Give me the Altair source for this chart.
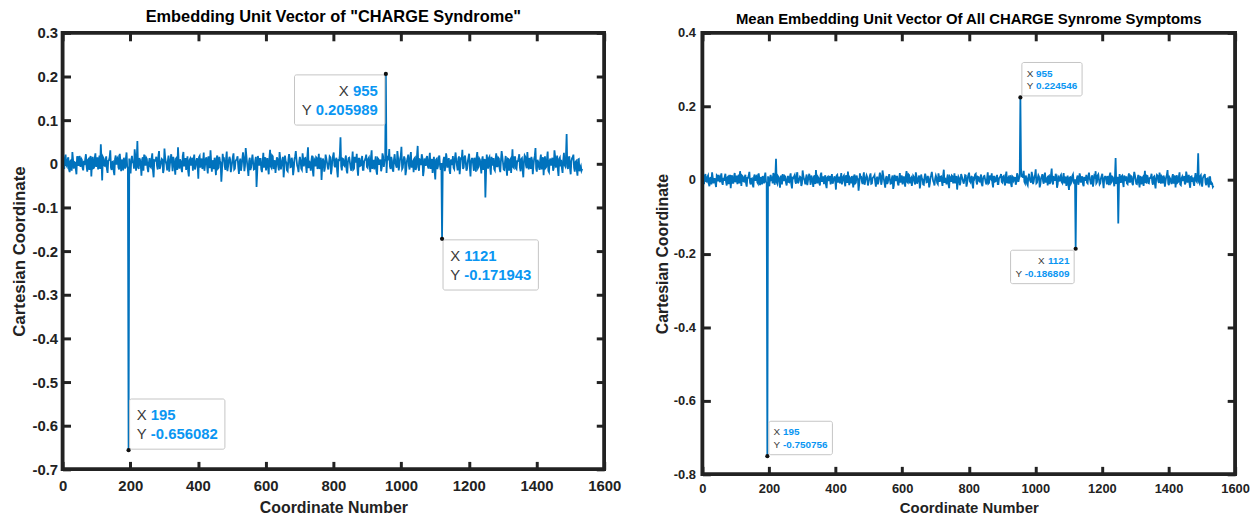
import altair as alt
import pandas as pd

# ---------------- data ----------------
# sampled coordinates: *_noise at 1, 5, 9, ...; *_noise_mid at 3, 7, 11, ...
COORD_START = 1
MID_START = 3
COORD_STEP = 4

left_noise = [
    0.004, -0.012, 0.021, -0.006, 0.015, -0.019, 0.008, 0.027, -0.011, 0.003, -0.024, 0.012, 0.018, -0.007, 0.009, -0.015,
    -0.003, 0.022, -0.018, 0.011, 0.006, -0.029, 0.016, -0.009, 0.024, 0.002, -0.013, 0.019, 0.045, -0.038, 0.013, -0.005,
    0.017, -0.021, 0.008, 0.031, -0.014, 0.005, -0.026, 0.019, 0.011, -0.008, 0.023, -0.017, 0.004, 0.014, -0.011, 0.026,
    -0.009, 0.012, -0.022, 0.018, 0.006, 0.033, -0.016, 0.052, -0.012, 0.009, -0.027, 0.015, 0.021, -0.004, 0.011, -0.019,
    0.013, -0.008, 0.024, -0.031, 0.007, 0.016, -0.013, 0.029, -0.006, 0.011, -0.021, 0.035, 0.004, -0.015, 0.019, -0.002,
    0.022, -0.017, 0.009, -0.025, 0.014, 0.038, -0.011, 0.006, -0.019, 0.027, 0.003, -0.014, 0.017, -0.029, 0.012, 0.008,
    -0.016, 0.021, -0.007, 0.013, -0.034, 0.018, 0.005, -0.012, 0.026, -0.003, 0.015, -0.022, 0.009, 0.031, -0.018, 0.004,
    0.014, -0.026, 0.019, -0.009, 0.007, -0.041, 0.023, 0.011, -0.014, 0.028, -0.006, 0.016, -0.019, 0.003, 0.024, -0.011,
    0.009, 0.017, -0.023, 0.012, -0.005, 0.026, -0.017, 0.036, 0.002, -0.028, 0.014, -0.008, 0.021, -0.013, 0.007, -0.053,
    0.018, -0.004, 0.011, -0.019, 0.025, 0.006, -0.015, 0.013, -0.024, 0.032, -0.009, 0.017, 0.004, -0.021, 0.015, -0.006,
    0.027, -0.013, 0.008, -0.031, 0.019, 0.003, -0.017, 0.022, -0.008, 0.014, -0.026, 0.011, 0.029, -0.004, -0.019, 0.016,
    -0.011, 0.024, -0.006, 0.013, -0.021, 0.038, 0.005, -0.016, 0.019, -0.029, 0.008, 0.015, -0.012, 0.023, -0.003, -0.037,
    0.012, -0.018, 0.021, 0.004, -0.013, 0.017, -0.024, 0.009, 0.026, -0.008, 0.014, -0.031, 0.006, 0.061, -0.015, 0.011,
    -0.005, 0.019, -0.022, 0.013, 0.002, -0.016, 0.028, -0.011, 0.007, 0.023, -0.027, 0.012, -0.004, 0.018, -0.014, 0.009,
    0.021, -0.009, 0.014, -0.019, 0.031, 0.005, -0.013, 0.017, -0.025, 0.011, 0.003, -0.017, 0.024, -0.007, 0.013, -0.021,
    0.016, 0.034, -0.012, 0.008, -0.018, 0.022, -0.004, 0.029, -0.015, 0.011, 0.039, -0.009, 0.017, -0.026, 0.006, 0.021,
    -0.013, 0.027, 0.003, -0.019, 0.014, -0.008, 0.041, -0.016, 0.009, 0.022, -0.028, 0.012, -0.005, 0.018, -0.011, 0.025,
    0.007, -0.021, 0.016, -0.036, 0.011, -0.006, 0.019, -0.014, 0.010, 0.008, -0.017, 0.024, -0.009, 0.013, -0.023, 0.004,
    0.018, -0.012, 0.026, -0.004, 0.011, -0.024, 0.015, 0.032, -0.008, 0.019, -0.016, 0.006, 0.023, -0.029, 0.012, -0.003,
    0.014, -0.018, 0.027, -0.007, 0.009, -0.022, 0.017, 0.004, -0.077, 0.021, -0.011, 0.016, -0.025, 0.008, 0.013, -0.015,
    0.024, -0.006, 0.012, -0.019, 0.029, 0.003, -0.014, 0.018, -0.027, 0.011, 0.007, -0.021, 0.033, -0.009, 0.015, -0.012,
    0.006, 0.022, -0.017, 0.013, -0.031, 0.019, -0.004, 0.027, -0.013, 0.009, 0.016, -0.024, 0.011, 0.036, -0.018, 0.005,
    -0.014, 0.021, 0.008, -0.026, 0.017, -0.007, 0.028, -0.019, 0.012, 0.004, -0.016, 0.031, -0.009, 0.019, -0.028, 0.014,
    0.009, -0.021, 0.025, -0.006, 0.068, -0.012, 0.017, -0.024, 0.013, 0.021, -0.018, 0.006, -0.027, 0.011, -0.009, -0.016,
]

left_noise_mid = [
    -0.008, 0.014, -0.003, 0.010, -0.013, 0.006, -0.016, 0.009, 0.004, -0.011, 0.017, -0.005, 0.002, 0.012, -0.009, 0.007,
    0.011, -0.006, 0.009, -0.014, 0.018, 0.003, -0.010, 0.013, -0.007, 0.015, 0.001, -0.012, 0.008, 0.016, -0.004, 0.010,
    -0.012, 0.007, 0.015, -0.009, 0.004, -0.017, 0.011, -0.002, 0.014, -0.013, 0.006, 0.010, -0.015, 0.003, 0.012, -0.007,
    0.005, -0.014, 0.009, 0.002, -0.011, 0.016, 0.007, -0.008, 0.013, -0.004, 0.010, -0.016, 0.006, 0.014, -0.010, 0.003,
    -0.006, 0.012, -0.015, 0.008, 0.011, -0.005, 0.017, -0.012, 0.004, 0.009, -0.013, 0.015, -0.002, 0.007, -0.018, 0.011,
    0.003, 0.016, -0.008, 0.012, -0.014, 0.005, 0.010, -0.011, 0.018, -0.006, 0.013, 0.002, -0.017, 0.009, -0.004, 0.014,
    0.010, -0.013, 0.006, -0.003, 0.015, -0.009, 0.012, 0.004, -0.016, 0.011, -0.007, 0.017, -0.010, 0.005, 0.008, -0.012,
    -0.004, 0.013, -0.011, 0.016, 0.002, -0.014, 0.009, -0.006, 0.012, -0.017, 0.007, 0.010, -0.008, 0.015, -0.013, 0.006,
    0.012, -0.007, 0.004, -0.016, 0.010, 0.013, -0.005, 0.018, -0.011, 0.006, -0.014, 0.009, 0.003, -0.012, 0.016, -0.020,
    0.007, 0.011, -0.013, 0.005, -0.009, 0.015, 0.002, -0.010, 0.014, -0.006, 0.019, -0.012, 0.008, -0.004, 0.011, -0.015,
    0.013, -0.002, 0.016, -0.011, 0.006, -0.015, 0.009, 0.012, -0.007, 0.004, -0.013, 0.017, 0.010, -0.009, 0.005, 0.008,
    -0.014, 0.009, 0.012, -0.004, 0.016, -0.010, 0.003, 0.007, -0.015, 0.011, -0.006, 0.013, 0.002, -0.012, 0.014, -0.008,
    0.006, -0.010, 0.013, -0.007, 0.002, 0.015, -0.012, 0.018, -0.004, 0.009, -0.016, 0.011, 0.020, -0.006, 0.012, -0.003,
    0.010, -0.015, 0.005, 0.014, -0.009, 0.007, -0.013, 0.016, 0.003, -0.011, 0.012, -0.005, 0.009, -0.014, 0.006, 0.013,
    -0.007, 0.011, -0.004, 0.015, -0.012, 0.009, 0.004, -0.016, 0.013, -0.002, 0.010, -0.008, 0.017, 0.005, -0.011, 0.014,
    0.008, -0.006, 0.016, -0.013, 0.010, 0.003, -0.009, 0.014, -0.005, 0.018, -0.012, 0.007, 0.011, -0.015, 0.012, -0.004,
    0.015, -0.009, 0.006, 0.012, -0.014, 0.019, -0.007, 0.010, -0.003, 0.013, -0.016, 0.008, 0.014, -0.006, 0.009, -0.012,
    0.011, 0.004, -0.017, 0.009, -0.012, 0.014, -0.005, 0.002, -0.010, 0.016, -0.007, 0.012, 0.005, -0.015, 0.010, -0.003,
    -0.009, 0.013, 0.007, -0.015, 0.017, -0.006, 0.010, -0.012, 0.015, 0.003, -0.011, 0.014, -0.008, 0.006, 0.012, -0.016,
    0.004, 0.015, -0.010, 0.012, -0.005, 0.009, -0.014, 0.011, -0.020, 0.007, 0.013, -0.009, 0.016, -0.004, -0.012, 0.010,
    -0.006, 0.014, -0.011, 0.008, 0.017, -0.013, 0.005, -0.009, 0.012, -0.016, 0.010, 0.003, -0.007, 0.015, -0.010, 0.006,
    0.012, -0.008, 0.011, -0.014, 0.006, 0.016, -0.010, 0.004, 0.013, -0.012, 0.008, -0.005, 0.018, -0.011, 0.009, -0.007,
    0.010, -0.013, 0.015, 0.002, -0.009, 0.012, -0.016, 0.007, -0.004, 0.014, -0.010, 0.017, 0.005, -0.013, 0.011, -0.006,
    -0.010, 0.008, -0.003, 0.016, -0.007, 0.013, -0.011, 0.006, 0.015, -0.009, 0.004, -0.014, 0.010, -0.017, -0.005, -0.012,
]

right_noise = [
    0.008, -0.011, 0.016, -0.004, 0.012, -0.017, 0.006, 0.021, -0.009, 0.003, -0.019, 0.011, 0.014, -0.006, 0.018, -0.013,
    -0.002, 0.017, -0.015, 0.009, 0.004, -0.022, 0.013, -0.008, 0.019, 0.001, -0.011, 0.015, 0.024, -0.016, 0.010, -0.004,
    0.014, -0.018, 0.006, 0.022, -0.012, 0.004, -0.020, 0.015, 0.009, -0.007, 0.018, -0.014, 0.003, 0.011, -0.009, 0.020,
    -0.008, 0.010, -0.017, 0.014, 0.005, 0.019, -0.013, 0.058, -0.010, 0.007, -0.021, 0.012, 0.016, -0.003, 0.009, -0.015,
    0.011, -0.006, 0.018, -0.023, 0.005, 0.013, -0.010, 0.021, -0.005, 0.009, -0.016, 0.026, 0.003, -0.012, 0.015, -0.002,
    0.017, -0.013, 0.007, -0.019, 0.011, 0.027, -0.009, 0.005, -0.015, 0.020, 0.002, -0.011, 0.013, -0.022, 0.009, 0.006,
    -0.012, 0.016, -0.005, 0.010, -0.026, 0.014, 0.004, -0.009, 0.019, -0.002, 0.012, -0.017, 0.007, 0.023, -0.014, 0.003,
    0.011, -0.020, 0.015, -0.007, 0.006, -0.029, 0.018, 0.008, -0.011, 0.021, -0.005, 0.013, -0.015, 0.002, 0.018, -0.009,
    0.007, 0.013, -0.018, 0.009, -0.004, 0.020, -0.013, 0.026, 0.002, -0.021, 0.011, -0.006, 0.016, -0.010, 0.005, -0.024,
    0.014, -0.003, 0.009, -0.015, 0.019, 0.005, -0.012, 0.010, -0.018, 0.024, -0.007, 0.013, 0.003, -0.016, 0.012, -0.005,
    0.021, -0.010, 0.006, -0.023, 0.015, 0.002, -0.013, 0.017, -0.006, 0.011, -0.020, 0.008, 0.022, -0.003, -0.015, 0.012,
    -0.008, 0.018, -0.005, 0.010, -0.016, 0.028, 0.004, -0.012, 0.015, -0.022, 0.006, 0.012, -0.009, 0.018, -0.002, -0.026,
    0.009, -0.014, 0.016, 0.003, -0.010, 0.013, -0.018, 0.007, 0.020, -0.006, 0.011, -0.023, 0.005, 0.017, -0.012, 0.008,
    -0.004, 0.015, -0.017, 0.010, 0.002, -0.012, 0.021, -0.008, 0.005, 0.018, -0.020, 0.009, -0.003, 0.014, -0.011, 0.007,
    0.016, -0.007, 0.011, -0.015, 0.023, 0.004, -0.010, 0.013, -0.019, 0.008, 0.002, -0.013, 0.018, -0.005, 0.010, 0.031,
    0.012, 0.025, -0.009, 0.006, -0.014, 0.017, -0.003, 0.022, -0.011, 0.008, 0.029, -0.007, 0.013, -0.020, 0.005, 0.016,
    -0.010, 0.020, 0.002, -0.015, 0.011, -0.006, 0.031, -0.012, 0.007, 0.017, -0.021, 0.009, -0.004, 0.014, -0.008, 0.019,
    0.005, -0.016, 0.012, -0.027, 0.008, -0.005, 0.015, -0.011, 0.010, 0.006, -0.013, 0.018, -0.007, 0.010, -0.017, 0.003,
    0.014, -0.009, 0.020, -0.003, 0.008, -0.018, 0.011, 0.024, -0.006, 0.015, -0.012, 0.005, 0.017, -0.022, 0.009, -0.002,
    0.011, -0.014, 0.020, -0.005, 0.007, -0.017, 0.060, 0.003, -0.118, 0.016, -0.008, 0.012, -0.019, 0.006, 0.010, -0.011,
    0.018, -0.005, 0.009, -0.014, 0.022, 0.002, -0.011, 0.014, -0.020, 0.008, 0.005, -0.016, 0.025, -0.007, 0.011, -0.009,
    0.005, 0.017, -0.013, 0.010, -0.023, 0.014, -0.003, 0.020, -0.010, 0.007, 0.012, -0.018, 0.008, 0.027, -0.014, 0.004,
    -0.011, 0.016, 0.006, -0.020, 0.013, -0.005, 0.021, -0.014, 0.009, 0.003, -0.012, 0.023, -0.007, 0.014, -0.021, 0.010,
    0.007, -0.016, 0.019, -0.005, 0.073, -0.009, 0.013, -0.018, 0.010, 0.016, -0.014, 0.004, -0.020, 0.008, -0.007, -0.019,
]

right_noise_mid = [
    -0.006, 0.011, -0.002, 0.008, -0.010, 0.005, -0.012, 0.007, 0.003, -0.009, 0.013, -0.004, 0.002, 0.010, -0.007, 0.006,
    0.009, -0.005, 0.007, -0.011, 0.014, 0.002, -0.008, 0.010, -0.006, 0.012, 0.001, -0.009, 0.006, 0.012, -0.003, 0.008,
    -0.009, 0.006, 0.012, -0.007, 0.003, -0.013, 0.009, -0.002, 0.011, -0.010, 0.005, 0.008, -0.012, 0.002, 0.010, -0.005,
    0.004, -0.011, 0.007, 0.002, -0.009, 0.013, 0.006, -0.006, 0.010, -0.003, 0.008, -0.012, 0.005, 0.011, -0.008, 0.002,
    -0.005, 0.010, -0.012, 0.006, 0.009, -0.004, 0.013, -0.009, 0.003, 0.007, -0.010, 0.012, -0.002, 0.006, -0.014, 0.009,
    0.002, 0.012, -0.006, 0.010, -0.011, 0.004, 0.008, -0.009, 0.014, -0.005, 0.010, 0.002, -0.013, 0.007, -0.003, 0.011,
    0.008, -0.010, 0.005, -0.002, 0.012, -0.007, 0.009, 0.003, -0.012, 0.009, -0.006, 0.013, -0.008, 0.004, 0.006, -0.009,
    -0.003, 0.010, -0.009, 0.012, 0.002, -0.011, 0.007, -0.005, 0.009, -0.013, 0.006, 0.008, -0.006, 0.012, -0.010, 0.005,
    0.009, -0.006, 0.003, -0.012, 0.008, 0.010, -0.004, 0.014, -0.009, 0.005, -0.011, 0.007, 0.002, -0.009, 0.012, -0.015,
    0.006, 0.009, -0.010, 0.004, -0.007, 0.012, 0.002, -0.008, 0.011, -0.005, 0.015, -0.009, 0.006, -0.003, 0.009, -0.012,
    0.010, -0.002, 0.012, -0.009, 0.005, -0.012, 0.007, 0.009, -0.005, 0.003, -0.010, 0.013, 0.008, -0.007, 0.004, 0.006,
    -0.011, 0.007, 0.009, -0.003, 0.012, -0.008, 0.002, 0.006, -0.012, 0.009, -0.005, 0.010, 0.002, -0.009, 0.011, -0.006,
    0.005, -0.008, 0.010, -0.005, 0.002, 0.012, -0.009, 0.014, -0.003, 0.007, -0.012, 0.009, 0.015, -0.005, 0.009, -0.002,
    0.008, -0.012, 0.004, 0.011, -0.007, 0.005, -0.010, 0.012, 0.002, -0.009, 0.009, -0.004, 0.007, -0.011, 0.005, 0.010,
    -0.005, 0.009, -0.003, 0.012, -0.009, 0.007, 0.003, -0.012, 0.010, -0.002, 0.008, -0.006, 0.013, 0.004, -0.009, 0.011,
    0.006, -0.005, 0.012, -0.010, 0.008, 0.002, -0.007, 0.011, -0.004, 0.014, -0.009, 0.005, 0.009, -0.012, 0.009, -0.003,
    0.012, -0.007, 0.005, 0.009, -0.011, 0.015, -0.005, 0.008, -0.002, 0.010, -0.012, 0.006, 0.011, -0.005, 0.007, -0.009,
    0.009, 0.003, -0.013, 0.007, -0.009, 0.011, -0.004, 0.002, -0.008, 0.012, -0.005, 0.009, 0.004, -0.012, 0.008, -0.002,
    -0.007, 0.010, 0.005, -0.012, 0.013, -0.005, 0.008, -0.009, 0.012, 0.002, -0.009, 0.011, -0.006, 0.005, 0.009, -0.012,
    0.003, 0.012, -0.008, 0.009, -0.004, 0.007, -0.011, 0.009, -0.015, 0.005, 0.010, -0.007, 0.012, -0.003, -0.009, 0.008,
    -0.005, 0.011, -0.009, 0.006, 0.013, -0.010, 0.004, -0.007, 0.009, -0.012, 0.008, 0.002, -0.006, 0.012, -0.008, 0.005,
    0.009, -0.006, 0.008, -0.011, 0.005, 0.012, -0.008, 0.003, 0.010, -0.009, 0.006, -0.004, 0.014, -0.009, 0.007, -0.005,
    0.008, -0.010, 0.012, 0.002, -0.007, 0.009, -0.012, 0.005, -0.003, 0.011, -0.008, 0.013, 0.004, -0.010, 0.009, -0.005,
    -0.008, 0.006, -0.002, 0.012, -0.005, 0.010, -0.009, 0.005, 0.012, -0.007, 0.003, -0.011, 0.008, -0.013, -0.010, -0.016,
]

left_tip_coord = [195, 955, 1121]
left_tip_value = [-0.656082, 0.205989, -0.171943]
right_tip_coord = [195, 955, 1121]
right_tip_value = [-0.750756, 0.224546, -0.186809]

left_title_text = 'Embedding Unit Vector of "CHARGE Syndrome"'
right_title_text = "Mean Embedding Unit Vector Of All CHARGE Synrome Symptoms"
x_title_text = "Coordinate Number"
y_title_text = "Cartesian Coordinate"

x_domain = [0, 1600]
x_ticks = [0, 200, 400, 600, 800, 1000, 1200, 1400, 1600]
left_y_domain = [-0.7, 0.3]
left_y_ticks = [-0.7, -0.6, -0.5, -0.4, -0.3, -0.2, -0.1, 0.0, 0.1, 0.2, 0.3]
right_y_domain = [-0.8, 0.4]
right_y_ticks = [-0.8, -0.6, -0.4, -0.2, 0.0, 0.2, 0.4]

# ---------------- style ----------------
FONT = "Liberation Sans"
AXIS_COLOR = "#222222"
LINE_COLOR = "#0072BD"
TIP_VALUE_COLOR = "#0A96F2"
TIP_LABEL_COLOR = "#3A3A3A"
TICK_LEN = 8
TICK_W = 3
FRAME_W = 3.5
LABEL_EXPR = ("abs(datum.value) < 1e-9 ? '0' : (datum.value < 0 ? '-' : '') "
              "+ format(abs(datum.value), '.1f')")


def bold_w(s, size):
    w = {".": 0.278, "-": 0.333}
    return sum(w.get(ch, 0.556) for ch in s) * size


def build_series(noise, noise_mid, tip_coord, tip_value):
    pts = {COORD_START + COORD_STEP * i: v for i, v in enumerate(noise)}
    pts.update({MID_START + COORD_STEP * i: v for i, v in enumerate(noise_mid)})
    for c, v in zip(tip_coord, tip_value):
        pts[c] = v
    xs = sorted(pts)
    return pd.DataFrame({"coord": xs, "value": [pts[x] for x in xs]})


def tip_layers(coord, value, xs, ys, size, sx, sy, align, gap):
    xt, yt = f"{coord}", f"{value:g}"
    pad = 0.48 * size
    head = 0.667 * size
    space = 0.278 * size
    box_w = 2 * pad + head + space + max(bold_w(xt, size), bold_w(yt, size))
    box_h = 3.37 * size
    x0, x1 = (gap, gap + box_w) if sx > 0 else (-gap - box_w, -gap)
    y0, y1 = (gap, gap + box_h) if sy > 0 else (-gap - box_h, -gap)
    df = pd.DataFrame({"coord": [coord], "value": [value], "xt": [xt], "yt": [yt],
                       "xl": ["X"], "yl": ["Y"]})
    enc = dict(x=alt.X("coord:Q", scale=xs, axis=None), y=alt.Y("value:Q", scale=ys, axis=None))
    base = alt.Chart(df)
    box = base.mark_rect(fill="#FFFFFF", stroke="#C4C4C4", strokeWidth=1, cornerRadius=2,
                         xOffset=round(x0, 1), x2Offset=round(x1, 1),
                         yOffset=round(y0, 1), y2Offset=round(y1, 1)).encode(
        x2=alt.X2("coord"), y2=alt.Y2("value"), **enc)
    layers = [box]
    for line_no, (lab_f, val_f, val_t) in enumerate([("xl", "xt", xt), ("yl", "yt", yt)]):
        dy = y0 + (1.43 if line_no == 0 else 2.68) * size
        if align == "left":
            lab_dx = x0 + pad
            val_dx = lab_dx + head + space
        else:
            val_dx = x1 - pad
            lab_dx = val_dx - bold_w(val_t, size) - space
        layers.append(base.mark_text(align=align, baseline="alphabetic", dx=round(lab_dx, 1),
                                     dy=round(dy, 1), font=FONT, fontSize=size,
                                     color=TIP_LABEL_COLOR).encode(text=f"{lab_f}:N", **enc))
        layers.append(base.mark_text(align=align, baseline="alphabetic", dx=round(val_dx, 1),
                                     dy=round(dy, 1), font=FONT, fontSize=size, fontWeight="bold",
                                     color=TIP_VALUE_COLOR).encode(text=f"{val_f}:N", **enc))
    return layers


def make_panel(noise, noise_mid, tip_coord, tip_value, y_domain, y_ticks, title_text,
               width, height, st):
    series = build_series(noise, noise_mid, tip_coord, tip_value)
    xs = alt.Scale(domain=x_domain, nice=False, zero=False)
    ys = alt.Scale(domain=y_domain, nice=False, zero=False)
    inward = dict(domain=False, grid=False, offset=-TICK_LEN, tickSize=TICK_LEN,
                  tickWidth=TICK_W, tickColor=AXIS_COLOR)
    x_axis = alt.Axis(orient="bottom", values=x_ticks, format="d", labelFlush=False,
                      labelOverlap=False, labelFont=FONT, labelFontSize=st["label_size"],
                      labelFontWeight="bold", labelColor=AXIS_COLOR,
                      labelPadding=st["x_label_pad"], title=x_title_text, titleFont=FONT,
                      titleFontSize=st["x_title_size"], titleFontWeight="bold",
                      titleColor=AXIS_COLOR, titlePadding=st["x_title_pad"], **inward)
    y_axis = alt.Axis(orient="left", values=y_ticks, labelExpr=LABEL_EXPR, labelOverlap=False,
                      labelFont=FONT, labelFontSize=st["label_size"], labelFontWeight="bold",
                      labelColor=AXIS_COLOR, labelPadding=st["y_label_pad"],
                      title=y_title_text, titleFont=FONT, titleFontSize=st["y_title_size"],
                      titleFontWeight="bold", titleColor=AXIS_COLOR,
                      titlePadding=st["y_title_pad"], **inward)
    line = alt.Chart(series).mark_line(color=LINE_COLOR, strokeWidth=1.8).encode(
        x=alt.X("coord:Q", scale=xs, axis=x_axis),
        y=alt.Y("value:Q", scale=ys, axis=y_axis))
    layers = [line]
    for c, v, (sx, sy, al) in zip(tip_coord, tip_value, st["tips"]):
        layers += tip_layers(c, v, xs, ys, st["tip_size"], sx, sy, al, st["tip_gap"])
    # frame box drawn through the scales at the domain limits
    frame_df = pd.DataFrame({"fx0": [x_domain[0]], "fx1": [x_domain[1]],
                             "fy0": [y_domain[0]], "fy1": [y_domain[1]]})
    frame = alt.Chart(frame_df).mark_rect(fillOpacity=0, stroke=AXIS_COLOR,
                                          strokeWidth=FRAME_W).encode(
        x=alt.X("fx0:Q", scale=xs, axis=None), x2=alt.X2("fx1"),
        y=alt.Y("fy0:Q", scale=ys, axis=None), y2=alt.Y2("fy1"))
    layers.append(frame)
    top_axis = alt.Axis(orient="top", values=x_ticks, labels=False, title=None, **inward)
    right_axis = alt.Axis(orient="right", values=y_ticks, labels=False, title=None, **inward)
    dots_df = pd.DataFrame({"coord": tip_coord, "value": tip_value})
    dots = alt.Chart(dots_df).mark_circle(color="#111111", size=18, opacity=1).encode(
        x=alt.X("coord:Q", scale=xs, axis=top_axis),
        y=alt.Y("value:Q", scale=ys, axis=right_axis))
    layers.append(dots)
    return alt.layer(*layers).resolve_axis(x="independent", y="independent").properties(
        width=width, height=height,
        title=alt.TitleParams(text=title_text, font=FONT, fontSize=st["title_size"],
                              fontWeight="bold", color="#000000", offset=st["title_offset"],
                              anchor="middle"))


left_style = dict(label_size=15, x_label_pad=9, x_title_size=16, x_title_pad=6,
                  y_label_pad=5, y_title_size=17, y_title_pad=4, title_size=16.5,
                  title_offset=0, tip_size=15, tip_gap=1,
                  tips=[(1, -1, "left"), (-1, 1, "right"), (1, 1, "left")])
right_style = dict(label_size=13, x_label_pad=8, x_title_size=15, x_title_pad=6,
                   y_label_pad=7, y_title_size=16, y_title_pad=3, title_size=15,
                   title_offset=0, tip_size=10, tip_gap=1.5,
                   tips=[(1, -1, "left"), (1, -1, "left"), (-1, 1, "right")])

left = make_panel(left_noise, left_noise_mid, left_tip_coord, left_tip_value, left_y_domain,
                  left_y_ticks, left_title_text, 546, 440, left_style)
right = make_panel(right_noise, right_noise_mid, right_tip_coord, right_tip_value,
                   right_y_domain, right_y_ticks, right_title_text, 537, 445, right_style)

chart = alt.hconcat(left, right, spacing=29).properties(
    padding={"left": 0, "top": -3, "right": 0, "bottom": 0}, background="white"
).configure_view(stroke=AXIS_COLOR, strokeWidth=FRAME_W)

chart.save("out.html", embed_options={"renderer": "svg", "actions": False})
